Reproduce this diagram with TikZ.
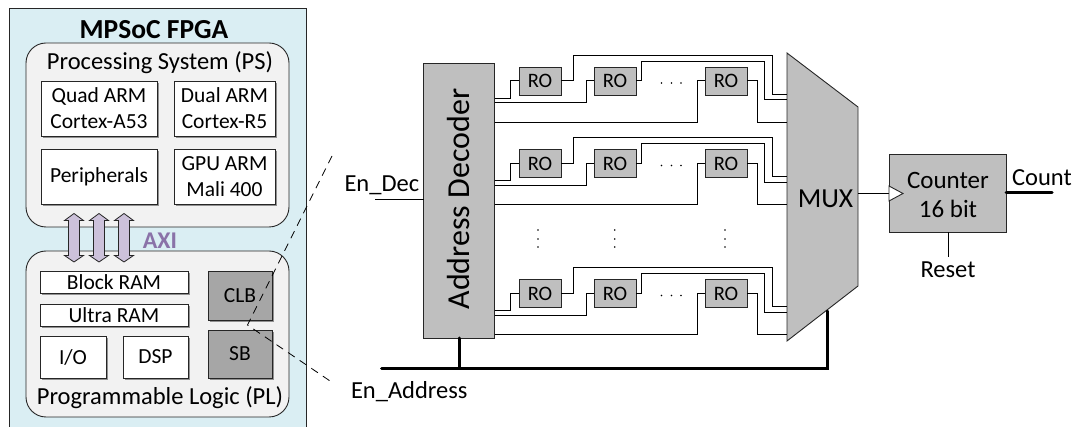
\documentclass[tikz,border=0pt]{standalone}
\usepackage{fontspec}
\setmainfont{Carlito}
\usetikzlibrary{arrows.meta,shadows}
\definecolor{panel}{HTML}{DAEEF3}
\definecolor{inner}{HTML}{F2F2F2}
\definecolor{blockgrey}{HTML}{BFBFBF}
\definecolor{darkgrey}{HTML}{A6A6A6}
\definecolor{lav}{HTML}{CCC1DA}
\definecolor{axi}{HTML}{8A72A8}
\definecolor{ln}{HTML}{262626}
\tikzset{
  x=1pt,y=-1pt,
  every node/.style={inner sep=0pt,outer sep=0pt,text=black,font=\fontsize{24.5}{29}\selectfont},
  area/.style={draw=ln,line width=0.9pt,fill=inner,rounded corners=20pt},
  softshadow/.style={drop shadow={shadow xshift=1.8pt,shadow yshift=-1.8pt,fill=black,opacity=0.4}},
  whitebox/.style={draw=ln,line width=0.9pt,fill=white,softshadow},
  greybox/.style={draw=ln,line width=0.9pt,fill=darkgrey,softshadow},
  robox/.style={draw=ln,line width=0.9pt,fill=blockgrey,font=\fontsize{20.5}{24}\selectfont},
  wire/.style={draw=black,line width=1pt},
  bus/.style={draw=black,line width=3pt,line cap=round},
  lbl/.style={align=center,font=\fontsize{21.5}{26}\selectfont},
  dashline/.style={draw=black,line width=0.8pt,dash pattern=on 8pt off 6pt},
  axiarrow/.style={draw=ln,line width=0.8pt,fill=lav},
  tinydot/.style={circle,fill=black,minimum size=1.6pt}
}
\begin{document}
\begin{tikzpicture}
\useasboundingbox (0,0) rectangle (1077,427);
% panel
\draw[draw=ln,line width=0.9pt,fill=panel] (9,430) -- (9,8.5) -- (306,8.5) -- (306,430);
\node[font=\fontsize{27.5}{32}\selectfont\bfseries] (title) at (154,30) {MPSoC FPGA};
% PS
\draw[area] (26,43) rectangle (289,227);
\node (pslabel) at (160,63) {Processing System (PS)};
\node[whitebox,lbl,anchor=north west,minimum width=116pt,minimum height=55pt] (quad) at (41,81) {Quad ARM\\Cortex-A53};
\node[whitebox,lbl,anchor=north west,minimum width=101pt,minimum height=55pt] (dual) at (174,81) {Dual ARM\\Cortex-R5};
\node[whitebox,lbl,anchor=north west,minimum width=116pt,minimum height=55pt] (periph) at (41,149) {Peripherals};
\node[whitebox,lbl,anchor=north west,minimum width=101pt,minimum height=55pt] (gpu) at (174,149) {GPU ARM\\Mali 400};
% PL
\draw[area] (26,251) rectangle (289,417);
\node (pllabel) at (160,398) {Programmable Logic (PL)};
\node[whitebox,lbl,anchor=north west,minimum width=148pt,minimum height=22pt] (bram) at (40,271) {Block RAM};
\node[whitebox,lbl,anchor=north west,minimum width=148pt,minimum height=22pt] (uram) at (40,304) {Ultra RAM};
\node[whitebox,lbl,anchor=north west,minimum width=66pt,minimum height=42pt] (io) at (40,336) {I/O};
\node[whitebox,lbl,anchor=north west,minimum width=65pt,minimum height=42pt] (dsp) at (123,336) {DSP};
\node[greybox,lbl,anchor=north west,minimum width=64pt,minimum height=49pt] (clb) at (208,271) {CLB};
\node[greybox,lbl,anchor=north west,minimum width=64pt,minimum height=48pt] (sb) at (208,330) {SB};
% AXI arrows
\foreach \c in {74,99,124}{
  \draw[axiarrow] (\c,213.5) -- (\c+9.5,220.5) -- (\c+5.5,220.5) -- (\c+5.5,255.5) -- (\c+9.5,255.5) -- (\c,262) -- (\c-9.5,255.5) -- (\c-5.5,255.5) -- (\c-5.5,220.5) -- (\c-9.5,220.5) -- cycle;
}
\node[font=\fontsize{24}{28}\selectfont\bfseries,text=axi] (axilabel) at (160,241) {AXI};
% dashed zoom lines
\coordinate (dtop) at (332,156);
\coordinate (dmid) at (247.5,325);
\coordinate (dbot) at (333,383);
\draw[dashline] (dtop) -- (dmid) -- (dbot);
% decoder
\node[draw=ln,line width=0.9pt,fill=blockgrey,anchor=north west,minimum width=71pt,minimum height=275pt] (dec) at (423.5,63) {};
\node[rotate=90,font=\fontsize{32}{38}\selectfont] (declabel) at (459,199) {Address Decoder};
% mux
\draw[draw=ln,line width=0.9pt,fill=blockgrey] (787,53) -- (858,107) -- (858,286) -- (787,341) -- cycle;
\coordinate (muxr) at (858,194);
\node[font=\fontsize{27.5}{32}\selectfont] (muxlabel) at (825.5,199) {MUX};
% RO rows
\foreach \n/\o in {a/0,b/82.5,c/212.5}{
  \begin{scope}[yshift=-\o pt]
    \node[robox,anchor=north west,minimum width=42pt,minimum height=28pt] (ro1\n) at (519,67) {RO};
    \node[robox,anchor=north west,minimum width=42pt,minimum height=28pt] (ro2\n) at (594,67) {RO};
    \node[robox,anchor=north west,minimum width=42pt,minimum height=28pt] (ro3\n) at (705,67) {RO};
    \draw[wire] (494.5,98.5) -- (510,98.5) -- (510,81) -- (ro1\n.west);
    \draw[wire] (494.5,103) -- (586,103) -- (586,81) -- (ro2\n.west);
    \draw[wire] (494.5,122.5) -- (697.5,122.5) -- (697.5,81) -- (ro3\n.west);
    \draw[wire] (ro1\n.east) -- (573.5,81) -- (573.5,55.5) -- (772,55.5) -- (772,94.5) -- (787,94.5);
    \draw[wire] (ro2\n.east) -- (641.5,81) -- (641.5,61.5) -- (764,61.5) -- (764,100) -- (787,100);
    \draw[wire] (ro3\n.east) -- (757,81) -- (757,122.5) -- (787,122.5);
    \foreach \x in {661.5,671.5,681}{\node[tinydot] (d\n\x) at (\x,83) {};}
  \end{scope}
}
% vertical dots
\foreach \x in {538,614.7,725}{
  \foreach \y in {230,239,247}{\node[tinydot] (v\x\y) at (\x,\y) {};}
}
% inputs
\node[anchor=west] (endec) at (344.5,185) {En\_Dec};
\coordinate (endecs) at (375,200);
\draw[wire] (endecs) -- (423.5,200);
\node[anchor=west] (enaddr) at (351,391.5) {En\_Address};
\coordinate (busl) at (381.5,368.5);
\coordinate (busr) at (827.5,368.5);
\coordinate (bust) at (827.5,311);
\draw[bus] (busl) -- (busr) -- (bust);
\draw[bus] (dec.south -| 459,0) -- (459,368.5);
% counter
\node[draw=ln,line width=0.9pt,fill=blockgrey,anchor=north west,minimum width=117pt,minimum height=77.5pt] (cnt) at (889,154.7) {};
\node[align=center,font=\fontsize{25}{29}\selectfont] (cntlabel) at (948,194.5) {Counter\\16 bit};
\draw[wire] (muxr) -- (889,194);
\draw[draw=ln,line width=0.9pt,fill=white] (889,186) -- (903,193.5) -- (889,201) -- cycle;
\draw[bus] (cnt.east |- 0,193) -- (1052,193);
\node (countlabel) at (1042,178) {Count};
\coordinate (rst) at (948,257.5);
\draw[wire] (948,232.2) -- (rst);
\node (resetlabel) at (948,270) {Reset};
\end{tikzpicture}
\end{document}
